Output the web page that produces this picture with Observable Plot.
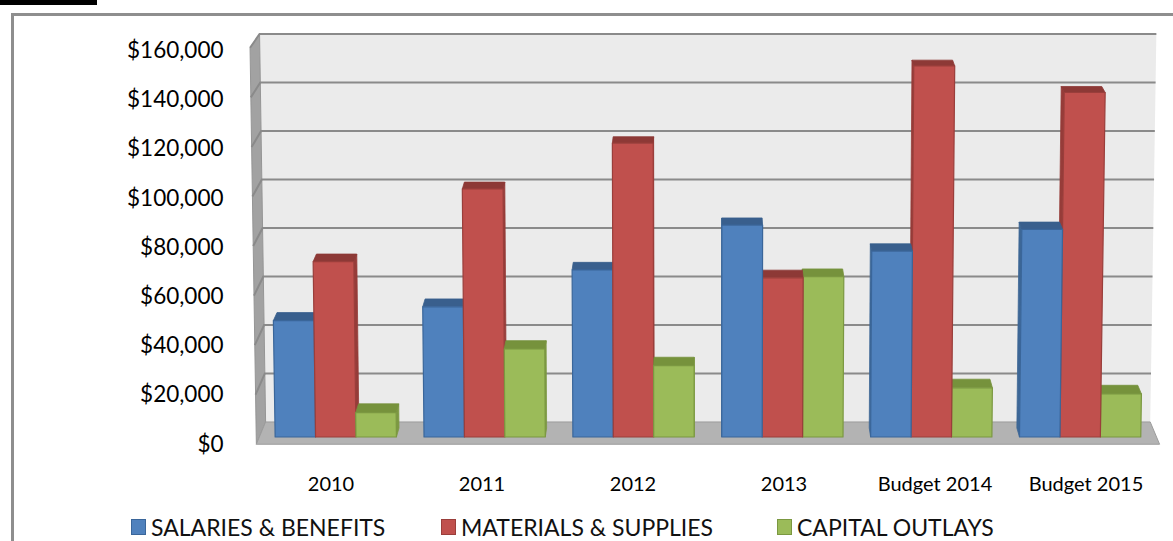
<!DOCTYPE html>
<html>
<head>
<meta charset="utf-8">
<script src="https://cdn.jsdelivr.net/npm/d3@7"></script>
<script src="https://cdn.jsdelivr.net/npm/@observablehq/plot@0.6"></script>
<style>
  body { margin: 0; background: #fff; font-family: Lato, "Open Sans", sans-serif; }
  #wrap { position: relative; width: 1173px; height: 541px; overflow: hidden; background: #fff; }
  .topbar { position: absolute; left: 0; top: 0; width: 97px; height: 5px; background: #000; }
  .frame { position: absolute; left: 11px; top: 13px; width: 1220px; height: 620px; border: 3px solid #8e8e8e; box-sizing: border-box; }
  #chart { position: absolute; left: 0; top: 0; }
  .legend-item { position: absolute; top: 513px; display: flex; align-items: center; font-size: 23px; line-height: 28px; color: #111; white-space: nowrap; }
  .legend-item .sw { width: 15px; height: 16px; box-sizing: border-box; border: 1px solid; margin-right: 5px; }
</style>
</head>
<body>
<div id="wrap">
  <div class="frame"></div>
  <div class="topbar"></div>
  <div id="chart"></div>
</div>
<script>
// Expenditure by category and year
const years = ["2010", "2011", "2012", "2013", "Budget 2014", "Budget 2015"];
const series = ["SALARIES & BENEFITS", "MATERIALS & SUPPLIES", "CAPITAL OUTLAYS"];
const salaries = [47300, 52900, 67900, 86100, 75500, 84400];
const materials = [71300, 100800, 119400, 64700, 150800, 140000];
const capital = [9900, 35800, 29000, 65200, 20000, 17500];
const yTicks = [0, 20000, 40000, 60000, 80000, 100000, 120000, 140000, 160000];

// Face colours per series: front, top, side, outline
const palette = [
  {front: "#4f81bd", top: "#395f8d", side: "#3d6796", line: "#3a669a"},
  {front: "#c0504d", top: "#8d3936", side: "#963c39", line: "#9a3e3b"},
  {front: "#9bbb59", top: "#76923c", side: "#7c9842", line: "#7b9841"}
];

const values = [salaries, materials, capital];
const rows = years.flatMap((year, i) =>
  series.map((s, j) => ({year, series: s, value: values[j][i]}))
);

// Simple perspective: depth t pulls points toward a vanishing point,
// and a slight horizontal squeeze grows with screen y.
const VX = 705, VY = -600, SQ = 3.5e-5, SQY = 34;
const T_BAR = 0.0087, T_WALL = 0.0145, T_FRONT = -0.007;
function proj(X, Y, t) {
  let px = VX + (X - VX) * (1 - t);
  const py = VY + (Y - VY) * (1 - t);
  px = VX + (px - VX) * (1 - SQ * (py - SQY));
  return [px, py];
}
const pts = (arr) => arr.map(p => p.join(",")).join(" ");

// Walls, floor and gridlines
function walls(index, scales, values, dimensions) {
  const {x, y} = scales;
  const [XL, XR] = x.range();
  const YT = y(160000), YB = y(0);
  const g = d3.create("svg:g");
  // back wall
  g.append("polygon")
    .attr("points", pts([proj(XL, YT, T_WALL), proj(XR, YT, T_WALL), proj(XR, YB, T_WALL), proj(XL, YB, T_WALL)]))
    .attr("fill", "#ebebeb");
  // left side wall
  g.append("polygon")
    .attr("points", pts([proj(XL, YT, T_FRONT), proj(XL, YT, T_WALL), proj(XL, YB, T_WALL), proj(XL, YB, T_FRONT)]))
    .attr("fill", "#a2a2a2").attr("stroke", "#959595").attr("stroke-width", 1);
  // floor
  g.append("polygon")
    .attr("points", pts([proj(XL, YB, T_WALL), proj(XR, YB, T_WALL), proj(XR, YB, T_FRONT), proj(XL, YB, T_FRONT)]))
    .attr("fill", "#b3b3b3").attr("stroke", "#9c9c9c").attr("stroke-width", 1);
  // gridlines on the back and side walls
  for (const v of yTicks) {
    if (v === 0) continue;
    const Y = y(v);
    const a = proj(XL, Y, T_FRONT), b = proj(XL, Y, T_WALL), c = proj(XR, Y, T_WALL);
    g.append("polyline")
      .attr("points", pts([a, b, c]))
      .attr("fill", "none").attr("stroke", "#8a8a8a").attr("stroke-width", 2);
  }
  return g.node();
}

// 3D bars: side, top and front faces, painted far-from-centre first
function bars3d(index, scales) {
  const {x, y} = scales;
  const sub = x.bandwidth() / series.length;
  const items = Array.from(index, i => {
    const d = rows[i];
    const j = series.indexOf(d.series);
    const X0 = x(d.year) + j * sub;
    return {X0, X1: X0 + sub, Yt: y(d.value), Yb: y(0), c: palette[j]};
  });
  items.sort((a, b) => Math.abs((b.X0 + b.X1) / 2 - VX) - Math.abs((a.X0 + a.X1) / 2 - VX));
  const g = d3.create("svg:g").attr("stroke-linejoin", "round");
  for (const {X0, X1, Yt, Yb, c} of items) {
    const left = (X0 + X1) / 2 < VX;
    const Xs = left ? X1 : X0;
    g.append("polygon")
      .attr("points", pts([proj(Xs, Yb, 0), proj(Xs, Yt, 0), proj(Xs, Yt, T_BAR), proj(Xs, Yb, T_BAR)]))
      .attr("fill", c.side).attr("stroke", c.side).attr("stroke-width", 0.8);
    g.append("polygon")
      .attr("points", pts([proj(X0, Yt, 0), proj(X1, Yt, 0), proj(X1, Yt, T_BAR), proj(X0, Yt, T_BAR)]))
      .attr("fill", c.top).attr("stroke", c.top).attr("stroke-width", 0.8);
    g.append("polygon")
      .attr("points", pts([proj(X0, Yb, 0), proj(X1, Yb, 0), proj(X1, Yt, 0), proj(X0, Yt, 0)]))
      .attr("fill", c.front).attr("stroke", c.line).attr("stroke-width", 1.2);
  }
  return g.node();
}

const chart = Plot.plot({
  width: 1173,
  height: 500,
  marginLeft: 253,
  marginRight: 10,
  marginTop: 43.3,
  marginBottom: 63,
  style: {fontFamily: "Lato, 'Open Sans', sans-serif", background: "transparent", color: "#000", overflow: "visible"},
  x: {type: "band", domain: years, paddingInner: 0.188, paddingOuter: 0.094, label: null},
  y: {domain: [0, 160000], label: null},
  marks: [
    walls,
    Plot.barY(rows, {x: "year", y: "value", render: bars3d}),
    Plot.axisY(yTicks, {tickSize: 0, tickPadding: 30, dy: 7, fontSize: 22.5,
      tickFormat: d => "$" + d3.format(",")(d), label: null}),
    Plot.axisX({tickSize: 0, tickPadding: 39, fontSize: 20, label: null})
  ]
});
document.getElementById("chart").append(chart);

// Legend below the chart
const wrap = document.getElementById("wrap");
const legendLeft = [131, 441, 777];
series.forEach((s, j) => {
  const item = document.createElement("div");
  item.className = "legend-item";
  item.style.left = legendLeft[j] + "px";
  const sw = document.createElement("span");
  sw.className = "sw";
  sw.style.background = palette[j].front;
  sw.style.borderColor = palette[j].line;
  const label = document.createElement("span");
  label.textContent = s;
  item.append(sw, label);
  wrap.append(item);
});
</script>
</body>
</html>
